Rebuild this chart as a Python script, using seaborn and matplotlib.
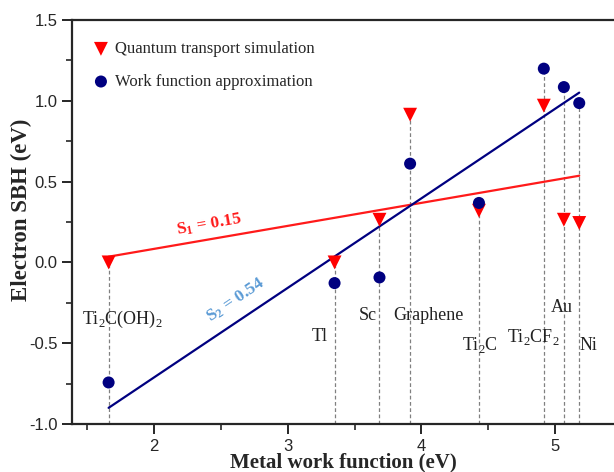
import numpy as np
import pandas as pd
import matplotlib
matplotlib.use("Agg")
import matplotlib.pyplot as plt
import seaborn as sns
from matplotlib.ticker import MultipleLocator

# =========================================
# DADOS
# =========================================

metais = ["Ti$_2$C(OH)$_2$", "Tl", "Sc", "Graphene", "Ti$_2$C", "Ti$_2$CF$_2$", "Au", "Ni"]
work_function = [1.66, 3.35, 3.686, 3.915, 4.43, 4.915, 5.065, 5.18]
sbh_quantum = [0.0, 0.0, 0.264, 0.914, 0.32, 0.97, 0.264, 0.244]
sbh_wf = [-0.743, -0.128, -0.093, 0.611, 0.368, 1.199, 1.085, 0.986]

# posicao dos nomes (x, y)
label_x = [1.76, 3.24, 3.595, 4.05, 4.44, 4.84, 5.05, 5.25]
label_y = [-0.35, -0.46, -0.33, -0.33, -0.51, -0.46, -0.28, -0.515]

df = pd.DataFrame({
    "wf": work_function,
    "quantum": sbh_quantum,
    "approx": sbh_wf
})

# =========================================
# FIGURA
# =========================================

sns.set_style("ticks")
plt.rcParams["font.family"] = ["Liberation Sans", "DejaVu Sans"]
plt.rcParams["mathtext.fontset"] = "custom"
plt.rcParams["mathtext.rm"] = "Liberation Serif"
plt.rcParams["mathtext.bf"] = "Liberation Serif:bold"

fig = plt.figure(figsize=(6.14, 4.72), dpi=100)
ax = fig.add_axes([0.117, 0.1017, 0.883, 0.8559])

# linhas tracejadas verticais
topo = np.maximum(df["quantum"], df["approx"])
ax.vlines(df["wf"], -1.0, topo, colors="#808080", linestyles=(0, (3, 2)),
          linewidth=0.9, zorder=1)

# ajustes lineares
sns.regplot(data=df, x="wf", y="quantum", scatter=False, ci=None,
            truncate=True, color="#ff1a1a", line_kws={"linewidth": 1.6}, ax=ax)
sns.regplot(data=df, x="wf", y="approx", scatter=False, ci=None,
            truncate=True, color="#000080", line_kws={"linewidth": 1.6}, ax=ax)

# pontos
sns.scatterplot(data=df, x="wf", y="quantum", marker="v", s=100, color="#ff0000",
                edgecolor="none", label="Quantum transport simulation", ax=ax, zorder=5)
sns.scatterplot(data=df, x="wf", y="approx", marker="o", s=75, color="#000080",
                edgecolor="none", label="Work function approximation", ax=ax, zorder=5)

# nomes dos metais
for nome, lx, ly in zip(metais, label_x, label_y):
    ax.text(lx, ly, nome, ha="center", va="center", fontsize=13,
            family="Liberation Serif", color="#222222")

# inclinacoes
ax.text(2.41, 0.235, "$\\mathbf{S_1}$ = 0.15", color="#ff1a1a", fontsize=12.5,
        family="Liberation Serif", fontweight="bold", rotation=10,
        ha="center", va="center")
ax.text(2.61, -0.23, "$\\mathbf{S_2}$ = 0.54", color="#5b9bd5", fontsize=12.5,
        family="Liberation Serif", fontweight="bold", rotation=34,
        ha="center", va="center")

# eixos
ax.set_xlim(1.385, 5.44)
ax.set_ylim(-1.0, 1.5)
ax.xaxis.set_major_locator(MultipleLocator(1))
ax.xaxis.set_minor_locator(MultipleLocator(0.5))
ax.yaxis.set_minor_locator(MultipleLocator(0.25))
ax.set_yticks([-1.0, -0.5, 0.0, 0.5, 1.0, 1.5])
ax.set_yticklabels(["-1.0", "-0.5", "0.0", "0.5", "1.0", "1.5"])
ax.tick_params(which="major", direction="out", length=7, width=1.4, labelsize=12)
ax.tick_params(which="minor", direction="out", length=4.5, width=1.2)

for lado in ["left", "bottom", "top"]:
    ax.spines[lado].set_linewidth(1.6)
ax.spines["right"].set_visible(False)

ax.set_xlabel("Metal work function (eV)", family="Liberation Serif",
              fontweight="bold", fontsize=15, labelpad=-1)
ax.set_ylabel("Electron SBH (eV)", family="Liberation Serif",
              fontweight="bold", fontsize=16.5)
ax.yaxis.set_label_coords(-0.074, 0.53)

ax.legend(loc="upper left", frameon=False, prop={"family": "Liberation Serif", "size": 12},
          labelspacing=1.0, handlelength=1.0, handletextpad=0.34, borderaxespad=0.0,
          bbox_to_anchor=(0.026, 0.964))

fig.savefig("out.png", dpi=100)
